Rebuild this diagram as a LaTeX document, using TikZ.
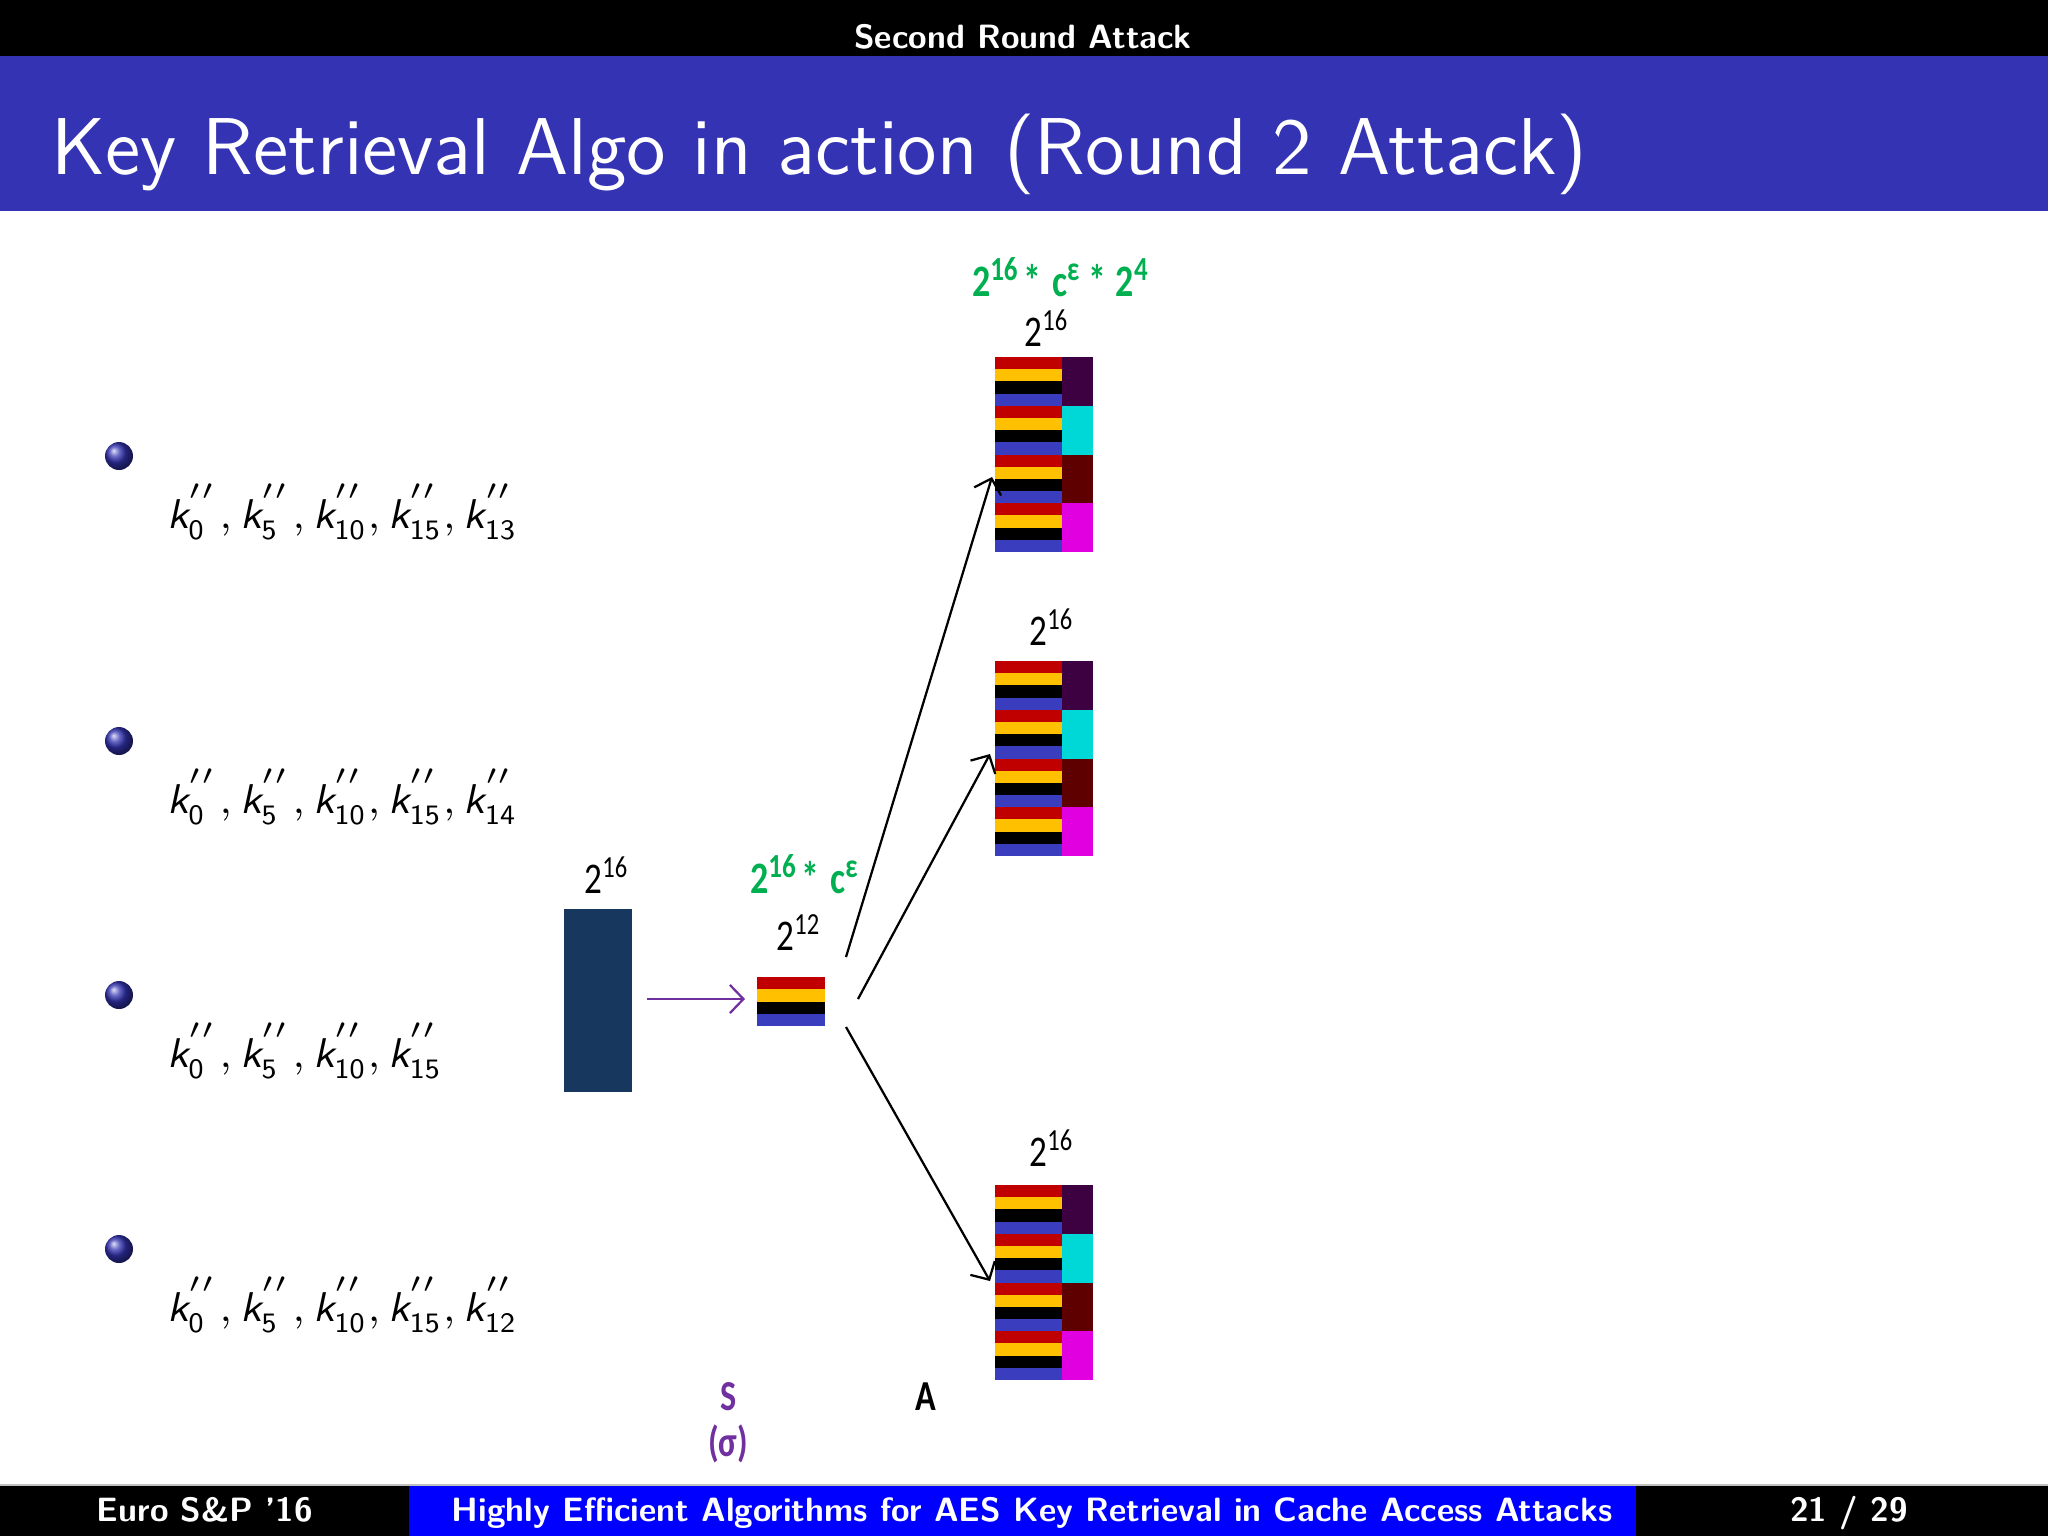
\documentclass[tikz,border=0pt]{standalone}
\usepackage{amsmath}
\usepackage{graphicx}
\usepackage{fontspec}
\usetikzlibrary{arrows.meta}
\newfontfamily\calib{Carlito}
\DeclareMathSizes{7.4}{7.4}{5}{3.9}
\definecolor{titleblue}{HTML}{3333B3}
\definecolor{footblue}{HTML}{0000FF}
\definecolor{ballc}{HTML}{3333B3}
\definecolor{cred}{HTML}{C00000}
\definecolor{cyel}{HTML}{FFC000}
\definecolor{cblu}{HTML}{3A3DBD}
\definecolor{cpur}{HTML}{3D0040}
\definecolor{ccya}{HTML}{00D8D8}
\definecolor{cdrd}{HTML}{5E0000}
\definecolor{cmag}{HTML}{E000E0}
\definecolor{navy}{HTML}{17375E}
\definecolor{cgreen}{HTML}{00B050}
\definecolor{cviolet}{HTML}{7030A0}
\newcommand\kk[1]{\textsf{\itshape k}_{\mathsf{#1}}^{''}}
\newcommand\sups[1]{\textsuperscript{#1}}
\newcommand\narrow[1]{\scalebox{0.8}[1]{#1}}
\newcommand\stackblk[3]{%
  \node[anchor=north west, inner sep=0, minimum width=0.6125cm, minimum height=1.21875cm] (#3) at (#1,#2) {};
  \foreach \g in {0,1,2,3}{
    \foreach \j/\c in {0/cred,1/cyel,2/black,3/cblu}{
      \fill[fill=\c] (#1,{#2+(\g*4+\j)*12.1875}) rectangle (#1+67,{#2+(\g*4+\j+1)*12.1875});
    }
  }
  \foreach \g/\c in {0/cpur,1/ccya,2/cdrd,3/cmag}{
    \fill[fill=\c] (#1+67,{#2+\g*48.75}) rectangle (#1+98,{#2+(\g+1)*48.75});
  }
}
\tikzset{
  bulletball/.style={circle, inner sep=0, minimum size=0.175cm, shading=ball, ball color=ballc},
  keyrow/.style={anchor=base west, inner sep=0, font=\fontsize{7.4}{9}\selectfont},
  numlab/.style={anchor=base, inner sep=0, font=\calib\fontsize{7.8}{9}\selectfont},
  greenlab/.style={anchor=base, inner sep=0, text=cgreen, font=\calib\bfseries\fontsize{8}{9}\selectfont},
  botlab/.style={anchor=base, inner sep=0, font=\calib\bfseries\fontsize{7.6}{9}\selectfont},
  conn/.style={draw=black, line width=0.4pt, -{Straight Barb[length=2.4pt,width=5pt]}},
  headtxt/.style={text=white, inner sep=0, anchor=base, font=\sffamily\bfseries\fontsize{6}{7}\selectfont}
}
\begin{document}
\begin{tikzpicture}[x=0.00625cm,y=-0.00625cm]
\useasboundingbox (0,0) rectangle (2048,1536);
\fill[white] (0,0) rectangle (2048,1536);
% header
\fill[black] (0,0) rectangle (2048,56);
\fill[titleblue] (0,56) rectangle (2048,211);
\node[headtxt] (head) at (1023,48) {Second Round Attack};
\node[anchor=base west, text=white, inner sep=0, font=\sffamily\fontsize{14.35}{17}\selectfont] (title) at (50,174) {Key Retrieval Algo in action (Round 2 Attack)};
% footer
\draw[gray!50, line width=0.3pt] (0,1485) -- (2048,1485);
\fill[black] (0,1486) rectangle (409,1536);
\fill[footblue] (409,1486) rectangle (1636,1536);
\fill[black] (1636,1486) rectangle (2048,1536);
\node[headtxt] (f1) at (205,1521) {Euro S\&P '16};
\node[headtxt] (f2) at (1032,1521) {Highly Efficient Algorithms for AES Key Retrieval in Cache Access Attacks};
\node[headtxt] (f3) at (1849,1521) {21 / 29};
% bullets
\node[bulletball] (b1) at (119,456) {};
\node[bulletball] (b2) at (119,741) {};
\node[bulletball] (b3) at (119,995) {};
\node[bulletball] (b4) at (119,1249) {};
\node[keyrow] (r1) at (166,528) {$\kk{0}, \kk{5}, \kk{10}, \kk{15}, \kk{13}$};
\node[keyrow] (r2) at (166,813) {$\kk{0}, \kk{5}, \kk{10}, \kk{15}, \kk{14}$};
\node[keyrow] (r3) at (166,1067) {$\kk{0}, \kk{5}, \kk{10}, \kk{15}$};
\node[keyrow] (r4) at (166,1321) {$\kk{0}, \kk{5}, \kk{10}, \kk{15}, \kk{12}$};
% big rectangle
\node[anchor=north west, inner sep=0, fill=navy, minimum width=0.425cm, minimum height=1.14375cm] (big) at (563,908) {};
\node[numlab] (lbig) at (607,893) {\narrow{2\sups{16}}};
% small stripes box
\node[anchor=north west, inner sep=0, minimum width=0.425cm, minimum height=0.30625cm] (small) at (757,977) {};
\foreach \j/\c in {0/cred,1/cyel,2/black,3/cblu}{
  \fill[fill=\c] (757,{977+\j*12.25}) rectangle (825,{977+(\j+1)*12.25});
}
\node[numlab] (lsmall) at (799,950) {\narrow{2\sups{12}}};
\node[greenlab] (gsmall) at (805,893) {\narrow{2\sups{16}\hspace{0.1em}*\hspace{0.3em}c\sups{ε}}};
% stacked blocks
\stackblk{995}{357}{t1}
\stackblk{995}{661}{t2}
\stackblk{995}{1185}{t3}
\node[numlab] (l1) at (1047,346) {\narrow{2\sups{16}}};
\node[numlab] (l2) at (1052,645) {\narrow{2\sups{16}}};
\node[numlab] (l3) at (1052,1166) {\narrow{2\sups{16}}};
\node[greenlab] (gtop) at (1061,296) {\narrow{2\sups{16}\hspace{0.1em}*\hspace{0.3em}c\sups{ε}\hspace{0.2em}*\hspace{0.25em}2\sups{4}}};
% connectors
\coordinate (p0) at (647,999);
\coordinate (p1) at (745,999);
\draw[conn, draw=cviolet] (p0) -- (p1);
\coordinate (o1) at (846,957);
\coordinate (o2) at (858,999);
\coordinate (o3) at (846,1027);
\coordinate (e1) at (992,477);
\coordinate (e2) at (990,754);
\coordinate (e3) at (990,1281);
\draw[conn] (o1) -- (e1);
\draw[conn] (o2) -- (e2);
\draw[conn] (o3) -- (e3);
% bottom labels
\node[botlab, text=cviolet] (sl) at (729,1410) {\narrow{S}};
\node[botlab, text=cviolet] (sig) at (728,1456) {\narrow{(σ)}};
\node[botlab, text=black] (al) at (926,1410) {\narrow{A}};
\end{tikzpicture}
\end{document}
